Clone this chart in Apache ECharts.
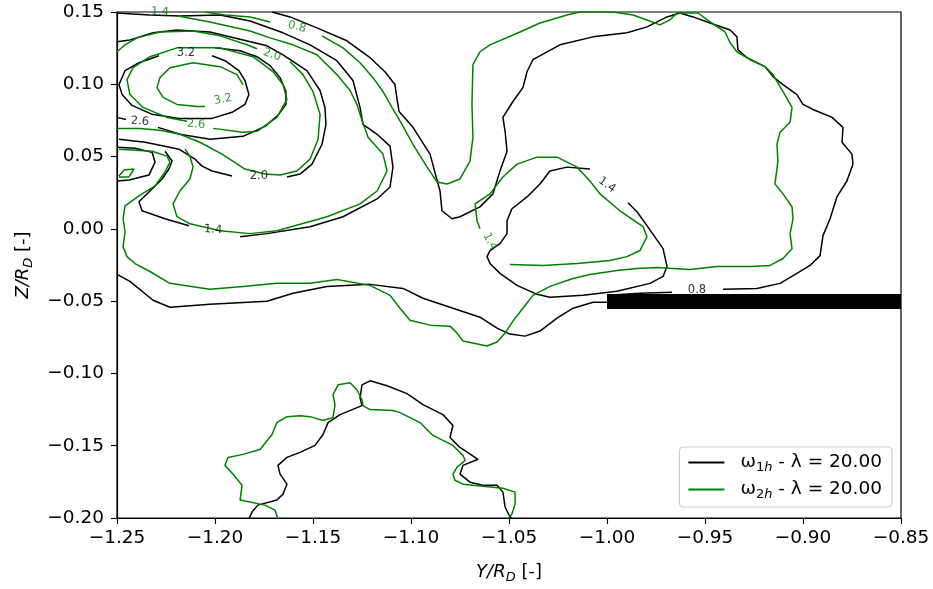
<!DOCTYPE html>
<html>
<head>
<meta charset="utf-8">
<title>Contours ω1h / ω2h</title>
<script src="https://cdn.jsdelivr.net/npm/echarts@6/dist/echarts.min.js"></script>
<style>
  html, body { margin: 0; padding: 0; background: #fff; }
  #chart { width: 933px; height: 589px; }
</style>
</head>
<body>
<div id="chart"></div>
<script>
// ---- axis ticks ----
const xTicks = [-1.25, -1.20, -1.15, -1.10, -1.05, -1.00, -0.95, -0.90, -0.85];
const yTicks = [-0.20, -0.15, -0.10, -0.05, 0.00, 0.05, 0.10, 0.15];

// ---- ω1h contour polylines, [Y/R_D, Z/R_D] ----
const w1_08_upper = [[-1.1709,0.1500],[-1.1617,0.1466],[-1.1480,0.1390],[-1.1327,0.1301],[-1.1209,0.1184],[-1.1133,0.1087],[-1.1082,0.0998],[-1.1071,0.0895],[-1.1061,0.0812],[-1.0990,0.0702],[-1.0903,0.0517],[-1.0852,0.0262],[-1.0842,0.0125],[-1.0791,0.0070],[-1.0750,0.0084],[-1.0648,0.0152],[-1.0582,0.0242],[-1.0546,0.0400],[-1.0510,0.0537],[-1.0520,0.0675],[-1.0531,0.0771],[-1.0480,0.0881],[-1.0429,0.0977],[-1.0408,0.1087],[-1.0378,0.1170],[-1.0240,0.1273],[-1.0071,0.1328],[-0.9898,0.1356],[-0.9796,0.1397],[-0.9694,0.1466],[-0.9628,0.1493],[-0.9561,0.1466],[-0.9474,0.1424],[-0.9372,0.1376],[-0.9337,0.1328],[-0.9332,0.1239],[-0.9286,0.1184],[-0.9194,0.1122],[-0.9153,0.1053],[-0.9102,0.0998],[-0.9031,0.0929],[-0.9000,0.0861],[-0.8949,0.0826],[-0.8852,0.0771],[-0.8796,0.0702],[-0.8801,0.0599],[-0.8750,0.0517],[-0.8745,0.0448],[-0.8776,0.0331],[-0.8827,0.0221],[-0.8862,0.0070],[-0.8898,-0.0047],[-0.8913,-0.0185],[-0.8964,-0.0253],[-0.9031,-0.0308],[-0.9117,-0.0377],[-0.9235,-0.0412],[-0.9408,-0.0418]];
const w1_08_mid = [[-0.9668,-0.0439],[-0.9832,-0.0446],[-1.0000,-0.0460]];
const w1_08_lower = [[-1.0000,-0.0508],[-1.0071,-0.0508],[-1.0173,-0.0549],[-1.0255,-0.0618],[-1.0342,-0.0707],[-1.0418,-0.0742],[-1.0495,-0.0728],[-1.0561,-0.0687],[-1.0648,-0.0611],[-1.0801,-0.0542],[-1.0939,-0.0480],[-1.1041,-0.0412],[-1.1209,-0.0384],[-1.1429,-0.0398],[-1.1602,-0.0446],[-1.1735,-0.0501],[-1.2026,-0.0522],[-1.2230,-0.0542],[-1.2316,-0.0494],[-1.2434,-0.0363],[-1.2500,-0.0315]];
const w1_14_vortex = [[-1.2500,0.1493],[-1.2332,0.1479],[-1.2179,0.1472],[-1.1974,0.1479],[-1.1821,0.1438],[-1.1653,0.1356],[-1.1515,0.1273],[-1.1378,0.1163],[-1.1296,0.1026],[-1.1260,0.0840],[-1.1245,0.0723],[-1.1173,0.0654],[-1.1107,0.0572],[-1.1092,0.0427],[-1.1107,0.0290],[-1.1173,0.0207],[-1.1347,0.0084],[-1.1515,0.0015],[-1.1735,-0.0033],[-1.1872,-0.0054]];
const w1_14_vortexTail = [[-1.2133,0.0022],[-1.2255,0.0070],[-1.2372,0.0125],[-1.2388,0.0187],[-1.2337,0.0255],[-1.2270,0.0345],[-1.2235,0.0414],[-1.2219,0.0469],[-1.2255,0.0537]];
const w1_14_core = [[-1.0087,0.0414],[-1.0204,0.0427],[-1.0291,0.0400],[-1.0342,0.0310],[-1.0408,0.0221],[-1.0485,0.0139],[-1.0510,0.0056],[-1.0510,-0.0033],[-1.0546,-0.0102],[-1.0597,-0.0150],[-1.0612,-0.0192],[-1.0597,-0.0240],[-1.0546,-0.0308],[-1.0459,-0.0391],[-1.0357,-0.0453],[-1.0291,-0.0473],[-1.0122,-0.0460],[-0.9949,-0.0432],[-0.9781,-0.0377],[-0.9714,-0.0329],[-0.9694,-0.0260],[-0.9714,-0.0137],[-0.9796,0.0022],[-0.9847,0.0118],[-0.9893,0.0180]];
const w1_20 = [[-1.2500,0.1294],[-1.2434,0.1307],[-1.2316,0.1356],[-1.2194,0.1376],[-1.2026,0.1362],[-1.1857,0.1307],[-1.1735,0.1266],[-1.1653,0.1204],[-1.1531,0.1094],[-1.1464,0.0957],[-1.1439,0.0840],[-1.1434,0.0723],[-1.1454,0.0585],[-1.1505,0.0448],[-1.1566,0.0379],[-1.1633,0.0359]];
const w1_20_tail = [[-1.1913,0.0365],[-1.2015,0.0400],[-1.2066,0.0434],[-1.2102,0.0482],[-1.2184,0.0551],[-1.2281,0.0579],[-1.2357,0.0599],[-1.2490,0.0620]];
const w1_26 = [[-1.2000,0.1252],[-1.1872,0.1232],[-1.1786,0.1191],[-1.1719,0.1129],[-1.1668,0.1046],[-1.1638,0.0950],[-1.1638,0.0861],[-1.1679,0.0785],[-1.1745,0.0709],[-1.1857,0.0640],[-1.2026,0.0620],[-1.2179,0.0654],[-1.2291,0.0702]];
const w1_26_tail = [[-1.2454,0.0757],[-1.2500,0.0771]];
const w1_32 = [[-1.2015,0.1197],[-1.1949,0.1163],[-1.1878,0.1094],[-1.1847,0.1026],[-1.1827,0.0929],[-1.1847,0.0861],[-1.1913,0.0806],[-1.2015,0.0764],[-1.2184,0.0764],[-1.2321,0.0792],[-1.2423,0.0854],[-1.2474,0.0929],[-1.2490,0.0998],[-1.2459,0.1094],[-1.2388,0.1149],[-1.2286,0.1197]];
const w1_edgeLoop = [[-1.2500,0.0565],[-1.2408,0.0558],[-1.2321,0.0530],[-1.2306,0.0462],[-1.2337,0.0372],[-1.2439,0.0338],[-1.2500,0.0331]];
const w1_arch = [[-1.1827,-0.2007],[-1.1811,-0.1959],[-1.1781,-0.1911],[-1.1684,-0.1876],[-1.1653,-0.1835],[-1.1633,-0.1766],[-1.1668,-0.1697],[-1.1679,-0.1636],[-1.1633,-0.1581],[-1.1566,-0.1546],[-1.1490,-0.1498],[-1.1449,-0.1422],[-1.1423,-0.1340],[-1.1362,-0.1285],[-1.1250,-0.1223],[-1.1260,-0.1168],[-1.1250,-0.1079],[-1.1209,-0.1051],[-1.1122,-0.1085],[-1.1020,-0.1140],[-1.0939,-0.1216],[-1.0837,-0.1285],[-1.0786,-0.1360],[-1.0801,-0.1443],[-1.0750,-0.1512],[-1.0658,-0.1594],[-1.0735,-0.1636],[-1.0750,-0.1697],[-1.0699,-0.1752],[-1.0633,-0.1773],[-1.0561,-0.1773],[-1.0531,-0.1821],[-1.0520,-0.1924],[-1.0495,-0.1993],[-1.0480,-0.2007]];

// ---- ω2h contour polylines ----
const w2_08_top = [[-1.2051,0.1500],[-1.1949,0.1479],[-1.1821,0.1466],[-1.1719,0.1431]];
const w2_08_main = [[-1.1454,0.1335],[-1.1347,0.1252],[-1.1260,0.1149],[-1.1194,0.1046],[-1.1143,0.0950],[-1.1097,0.0840],[-1.1046,0.0723],[-1.0990,0.0585],[-1.0918,0.0427],[-1.0867,0.0324],[-1.0816,0.0310],[-1.0750,0.0345],[-1.0699,0.0469],[-1.0684,0.0634],[-1.0689,0.0861],[-1.0684,0.1136],[-1.0648,0.1225],[-1.0597,0.1273],[-1.0444,0.1362],[-1.0342,0.1424],[-1.0204,0.1479],[-1.0138,0.1500],[-0.9969,0.1500],[-0.9867,0.1479],[-0.9796,0.1445],[-0.9730,0.1411],[-0.9679,0.1445],[-0.9643,0.1493],[-0.9536,0.1493],[-0.9474,0.1431],[-0.9398,0.1362],[-0.9372,0.1287],[-0.9337,0.1225],[-0.9270,0.1170],[-0.9194,0.1122],[-0.9153,0.1067],[-0.9102,0.0950],[-0.9056,0.0840],[-0.9066,0.0737],[-0.9117,0.0668],[-0.9133,0.0585],[-0.9128,0.0469],[-0.9143,0.0310],[-0.9102,0.0242],[-0.9056,0.0152],[-0.9051,0.0070],[-0.9066,-0.0033],[-0.9056,-0.0137],[-0.9102,-0.0205],[-0.9168,-0.0253],[-0.9270,-0.0260],[-0.9439,-0.0260],[-0.9577,-0.0281],[-0.9745,-0.0267],[-0.9847,-0.0274],[-0.9949,-0.0288],[-1.0087,-0.0315],[-1.0173,-0.0343],[-1.0291,-0.0398],[-1.0378,-0.0460],[-1.0429,-0.0549],[-1.0480,-0.0638],[-1.0520,-0.0721],[-1.0561,-0.0783],[-1.0612,-0.0810],[-1.0735,-0.0776],[-1.0765,-0.0721],[-1.0801,-0.0673],[-1.0903,-0.0666],[-1.1005,-0.0632],[-1.1056,-0.0549],[-1.1107,-0.0460],[-1.1209,-0.0391],[-1.1378,-0.0350],[-1.1515,-0.0377],[-1.1684,-0.0377],[-1.1857,-0.0398],[-1.2026,-0.0418],[-1.2230,-0.0377],[-1.2332,-0.0295],[-1.2408,-0.0240],[-1.2449,-0.0192],[-1.2469,-0.0123],[-1.2459,-0.0020],[-1.2469,0.0070],[-1.2459,0.0159],[-1.2388,0.0228],[-1.2306,0.0297],[-1.2255,0.0393],[-1.2230,0.0462],[-1.2245,0.0503],[-1.2321,0.0537],[-1.2490,0.0551]];
const w2_14_vortex = [[-1.2189,0.1472],[-1.2026,0.1431],[-1.1821,0.1369],[-1.1719,0.1321],[-1.1602,0.1273],[-1.1480,0.1204],[-1.1378,0.1067],[-1.1311,0.0957],[-1.1276,0.0861],[-1.1250,0.0750],[-1.1219,0.0634],[-1.1143,0.0517],[-1.1122,0.0400],[-1.1173,0.0262],[-1.1260,0.0173],[-1.1429,0.0084],[-1.1684,-0.0013],[-1.1821,-0.0033],[-1.1974,-0.0013],[-1.2128,0.0035],[-1.2194,0.0084],[-1.2214,0.0173],[-1.2179,0.0262],[-1.2128,0.0345],[-1.2112,0.0427],[-1.2128,0.0503],[-1.2153,0.0551]];
const w2_14_core = [[-1.0495,-0.0247],[-1.0327,-0.0253],[-1.0153,-0.0240],[-0.9985,-0.0219],[-0.9898,-0.0192],[-0.9832,-0.0150],[-0.9796,-0.0054],[-0.9816,0.0015],[-0.9934,0.0125],[-1.0036,0.0242],[-1.0087,0.0331],[-1.0153,0.0427],[-1.0255,0.0496],[-1.0357,0.0496],[-1.0459,0.0448],[-1.0531,0.0359],[-1.0597,0.0242],[-1.0673,0.0173],[-1.0663,0.0056],[-1.0648,0.0001]];
const w2_20 = [[-1.2500,0.1225],[-1.2459,0.1273],[-1.2398,0.1321],[-1.2281,0.1362],[-1.2112,0.1369],[-1.1974,0.1335],[-1.1837,0.1273],[-1.1786,0.1246]];
const w2_20_tail = [[-1.1617,0.1156],[-1.1551,0.1067],[-1.1500,0.0950],[-1.1464,0.0792],[-1.1474,0.0620],[-1.1515,0.0482],[-1.1582,0.0400],[-1.1668,0.0372],[-1.1745,0.0379],[-1.1847,0.0414],[-1.1964,0.0517],[-1.2077,0.0599],[-1.2179,0.0654],[-1.2281,0.0682],[-1.2383,0.0695],[-1.2500,0.0695]];
const w2_26 = [[-1.2143,0.0744],[-1.2245,0.0771],[-1.2367,0.0840],[-1.2434,0.0929],[-1.2449,0.1032],[-1.2418,0.1115],[-1.2332,0.1191],[-1.2194,0.1252],[-1.1974,0.1252],[-1.1806,0.1191],[-1.1704,0.1087],[-1.1653,0.0998],[-1.1633,0.0895],[-1.1684,0.0771],[-1.1786,0.0675],[-1.1857,0.0668],[-1.2010,0.0695]];
const w2_32 = [[-1.1857,0.0998],[-1.1888,0.1067],[-1.1974,0.1122],[-1.2112,0.1149],[-1.2230,0.1115],[-1.2281,0.1046],[-1.2296,0.0977],[-1.2265,0.0909],[-1.2194,0.0861],[-1.2092,0.0847],[-1.2051,0.0847]];
const w2_edgeIsland = [[-1.2490,0.0365],[-1.2464,0.0407],[-1.2413,0.0414],[-1.2439,0.0359],[-1.2490,0.0359]];
const w2_arch = [[-1.1679,-0.2007],[-1.1694,-0.1945],[-1.1745,-0.1911],[-1.1872,-0.1876],[-1.1862,-0.1773],[-1.1908,-0.1697],[-1.1949,-0.1636],[-1.1934,-0.1581],[-1.1857,-0.1560],[-1.1770,-0.1526],[-1.1709,-0.1422],[-1.1684,-0.1340],[-1.1633,-0.1299],[-1.1566,-0.1292],[-1.1515,-0.1299],[-1.1449,-0.1326],[-1.1398,-0.1305],[-1.1388,-0.1216],[-1.1398,-0.1147],[-1.1372,-0.1079],[-1.1311,-0.1065],[-1.1276,-0.1113],[-1.1250,-0.1182],[-1.1245,-0.1223],[-1.1209,-0.1250],[-1.1092,-0.1257],[-1.1056,-0.1271],[-1.0954,-0.1340],[-1.0888,-0.1429],[-1.0786,-0.1498],[-1.0735,-0.1567],[-1.0724,-0.1601],[-1.0765,-0.1649],[-1.0786,-0.1697],[-1.0776,-0.1739],[-1.0735,-0.1766],[-1.0633,-0.1780],[-1.0531,-0.1794],[-1.0469,-0.1821],[-1.0469,-0.1904],[-1.0485,-0.1972],[-1.0505,-0.2007]];

// ---- inline contour labels: [Y, Z, text, rotation] ----
const w1Labels = [[-1.2148,0.1218,'3.2',0],[-1.2383,0.0744,'2.6',-4],[-1.1776,0.0365,'2.0',0],[-1.2010,-0.0006,'1.4',-4],[-1.0000,0.0304,'1.4',-35],[-0.9541,-0.0425,'0.8',0]];
const w2Labels = [[-1.2281,0.1500,'1.4',-3],[-1.1582,0.1397,'0.8',-15],[-1.1709,0.1204,'2.0',-18],[-1.1959,0.0895,'3.2',10],[-1.2097,0.0723,'2.6',-3],[-1.0597,-0.0088,'1.4',-62]];

// ---- solid plate: [Ymin, Zlow, Ymax, Zhigh] ----
const plate = [[-1.00, -0.0555, -0.85, -0.045]];

const w1Lines = [w1_08_upper, w1_08_mid, w1_08_lower, w1_14_vortex, w1_14_vortexTail, w1_14_core, w1_20, w1_20_tail, w1_26, w1_26_tail, w1_32, w1_edgeLoop, w1_arch];
const w2Lines = [w2_08_top, w2_08_main, w2_14_vortex, w2_14_core, w2_20, w2_20_tail, w2_26, w2_32, w2_edgeIsland, w2_arch];

const FONT = 'DejaVu Sans';
const BLACK = '#000000';
const GREEN = '#008000';
const NAME1 = 'w1h';
const NAME2 = 'w2h';
const TICK_FS = 18.5;

const fmt = v => {
  const s = Math.abs(v).toFixed(2);
  return (v < -1e-9 ? '\u2212' : '') + s;
};

function lineSeries(name, color, pts) {
  return {
    type: 'line', name: name, data: pts, symbol: 'none', showSymbol: false,
    smooth: false, clip: true, z: 2, silent: true,
    lineStyle: { color: color, width: 1.5 }, itemStyle: { color: color }
  };
}

function labelSeries(color, labels) {
  return {
    type: 'scatter', z: 5, silent: true, symbolSize: 1,
    itemStyle: { color: 'rgba(0,0,0,0)' },
    data: labels.map(l => ({
      value: [l[0], l[1]],
      label: { show: true, position: 'inside', formatter: l[2], rotate: l[3],
               color: color, fontSize: 11.5, fontFamily: FONT }
    }))
  };
}

const series = [];
w1Lines.forEach(p => series.push(lineSeries(NAME1, BLACK, p)));
w2Lines.forEach(p => series.push(lineSeries(NAME2, GREEN, p)));
series.push({
  type: 'custom', z: 4, silent: true, clip: true,
  data: plate,
  encode: { x: [0, 2], y: [1, 3] },
  renderItem: (params, api) => {
    const a = api.coord([api.value(0), api.value(3)]);
    const b = api.coord([api.value(2), api.value(1)]);
    return { type: 'rect', shape: { x: a[0], y: a[1], width: b[0] - a[0], height: b[1] - a[1] },
             style: { fill: '#000' } };
  }
});
series.push(labelSeries(BLACK, w1Labels));
series.push(labelSeries(GREEN, w2Labels));

const nameRich = {
  i: { fontStyle: 'italic', fontSize: 18, fontFamily: FONT, lineHeight: 24 },
  s: { fontStyle: 'italic', fontSize: 13, fontFamily: FONT, verticalAlign: 'bottom', lineHeight: 16 },
  n: { fontSize: 18, fontFamily: FONT, lineHeight: 24 }
};

const chart = echarts.init(document.getElementById('chart'), null, { renderer: 'canvas' });
chart.setOption({
  animation: false,
  backgroundColor: '#fff',
  grid: { left: 117, right: 32, top: 12, bottom: 68, show: true, borderColor: '#000', borderWidth: 1.2 },
  xAxis: {
    type: 'value', min: xTicks[0], max: xTicks[xTicks.length - 1], interval: 0.05,
    axisLine: { show: true, onZero: false, lineStyle: { color: '#000', width: 1.2 } },
    axisTick: { show: true, length: 6, lineStyle: { color: '#000', width: 1.1 } },
    axisLabel: { color: '#000', fontSize: TICK_FS, fontFamily: FONT, margin: 11, formatter: fmt },
    splitLine: { show: false },
    name: '{i|Y/R}{s|D}{n| [-]}', nameLocation: 'middle', nameGap: 42,
    nameTextStyle: { color: '#000', fontSize: 18, fontFamily: FONT, rich: nameRich }
  },
  yAxis: {
    type: 'value', min: yTicks[0], max: yTicks[yTicks.length - 1], interval: 0.05,
    axisLine: { show: true, onZero: false, lineStyle: { color: '#000', width: 1.2 } },
    axisTick: { show: true, length: 6, lineStyle: { color: '#000', width: 1.1 } },
    axisLabel: { color: '#000', fontSize: TICK_FS, fontFamily: FONT, margin: 13, formatter: fmt },
    splitLine: { show: false },
    name: '{i|Z/R}{s|D}{n| [-]}', nameLocation: 'middle', nameGap: 82, nameRotate: 90,
    nameTextStyle: { color: '#000', fontSize: 18, fontFamily: FONT, rich: nameRich }
  },
  legend: {
    orient: 'vertical', right: 41, top: 447,
    selectedMode: false,
    itemWidth: 36, itemHeight: 2, itemGap: 6,
    padding: [6, 10, 6, 9],
    borderColor: '#cccccc', borderWidth: 1.2, borderRadius: 4, backgroundColor: '#fff',
    data: [{ name: NAME1, icon: 'rect' }, { name: NAME2, icon: 'rect' }],
    formatter: n => n === NAME1
      ? '{a|ω}{b|1}{h|h}{c| - λ = 20.00}'
      : '{a|ω}{b|2}{h|h}{c| - λ = 20.00}',
    textStyle: { color: '#000', fontFamily: FONT, fontSize: 18.5,
      rich: {
        a: { fontSize: 18.5, fontFamily: FONT, lineHeight: 23, padding: [0, 0, 0, 11] },
        b: { fontSize: 13, fontFamily: FONT, verticalAlign: 'bottom', lineHeight: 15 },
        h: { fontSize: 13, fontStyle: 'italic', fontFamily: FONT, verticalAlign: 'bottom', lineHeight: 15 },
        c: { fontSize: 18.5, fontFamily: FONT, lineHeight: 23 }
      } }
  },
  series: series
});
</script>
</body>
</html>
